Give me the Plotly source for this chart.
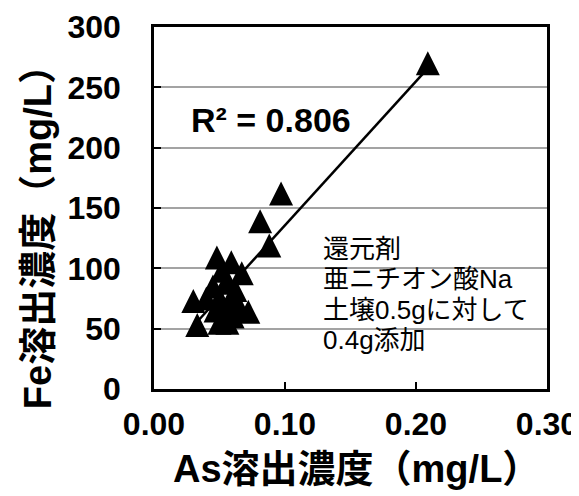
import plotly.graph_objects as go

# ---- data ----
as_conc = [0.209, 0.097, 0.081, 0.088, 0.048, 0.059, 0.067, 0.052, 0.055,
           0.045, 0.062, 0.040, 0.030, 0.050, 0.058, 0.065, 0.072, 0.047,
           0.055, 0.060, 0.033, 0.050, 0.056]
fe_conc = [270, 162, 139, 119, 109, 105, 96, 98, 88,
           85, 82, 75, 73, 75, 72, 68, 64, 65,
           62, 60, 53, 55, 55]

trend_slope = 1193.0
trend_intercept = 16.4
r2_label = "R² = 0.806"

x_ticks = [0.0, 0.1, 0.2, 0.3]
y_ticks = [0, 50, 100, 150, 200, 250, 300]

note_lines = ["還元剤", "亜ニチオン酸Na", "土壌0.5gに対して", "0.4g添加"]
x_title = "As溶出濃度（mg/L）"
y_title = "Fe溶出濃度（mg/L）"

FONT = "Liberation Sans, Arial, Noto Sans CJK JP, sans-serif"

trend_x = [min(as_conc), max(as_conc)]
trend_y = [trend_slope * v + trend_intercept for v in trend_x]

fig = go.Figure()
fig.add_trace(go.Scatter(x=trend_x, y=trend_y, mode="lines",
                         line=dict(color="black", width=2.5),
                         hoverinfo="skip", showlegend=False))
fig.add_trace(go.Scatter(x=as_conc, y=fe_conc, mode="markers",
                         marker=dict(symbol="arrow-down", angle=180, size=24,
                                     color="black", standoff=12,
                                     line=dict(width=0)),
                         showlegend=False))

# page body has an 8px margin, so the plot margins compensate for it
fig.update_layout(
    width=579, height=496,
    margin=dict(l=146, r=40, t=19, b=115, pad=0, autoexpand=False),
    paper_bgcolor="white", plot_bgcolor="white",
    font=dict(family=FONT, color="black"),
    showlegend=False,
)
fig.update_xaxes(range=[0, 0.3], tickvals=x_ticks, tickformat=".2f",
                 automargin=False,
                 showgrid=False, zeroline=False,
                 showline=True, linecolor="black", linewidth=2.5, mirror=True,
                 ticks="inside", ticklen=7, tickwidth=2, tickcolor="black",
                 tickfont=dict(family=FONT, size=32, color="black", weight="bold"),
                 ticklabelstandoff=5)
fig.update_yaxes(range=[0, 300], tickvals=y_ticks,
                 automargin=False,
                 showgrid=True, gridcolor="#a3a3a3", gridwidth=2,
                 zeroline=False,
                 showline=True, linecolor="black", linewidth=2.5, mirror=True,
                 ticks="inside", ticklen=7, tickwidth=2, tickcolor="black",
                 tickfont=dict(family=FONT, size=32, color="black", weight="bold"),
                 ticklabelstandoff=24)

# white box behind the note text (covers gridlines)
fig.add_shape(type="rect", xref="paper", yref="paper",
              x0=0.373, x1=0.983, y0=0.07, y1=0.48,
              fillcolor="white", line=dict(width=0), layer="between")

annots = []
annots.append(dict(text=x_title, xref="paper", yref="paper", x=0.515, y=-0.222,
                   xanchor="center", yanchor="middle", showarrow=False,
                   font=dict(family=FONT, size=38, color="black", weight="bold")))
annots.append(dict(text=y_title, xref="paper", yref="paper", x=-0.296, y=0.446,
                   xanchor="center", yanchor="middle", showarrow=False, textangle=-90,
                   font=dict(family=FONT, size=38, color="black", weight="bold")))
annots.append(dict(text=r2_label, xref="paper", yref="paper", x=0.09, y=0.742,
                   xanchor="left", yanchor="middle", showarrow=False,
                   font=dict(family=FONT, size=34, color="black", weight="bold")))
note_y = [0.386, 0.303, 0.219, 0.136]
for line, yy in zip(note_lines, note_y):
    annots.append(dict(text=line, xref="paper", yref="paper", x=0.426, y=yy,
                       xanchor="left", yanchor="middle", showarrow=False,
                       font=dict(family=FONT, size=26, color="black")))
fig.update_layout(annotations=annots)

fig.write_html("out.html")
